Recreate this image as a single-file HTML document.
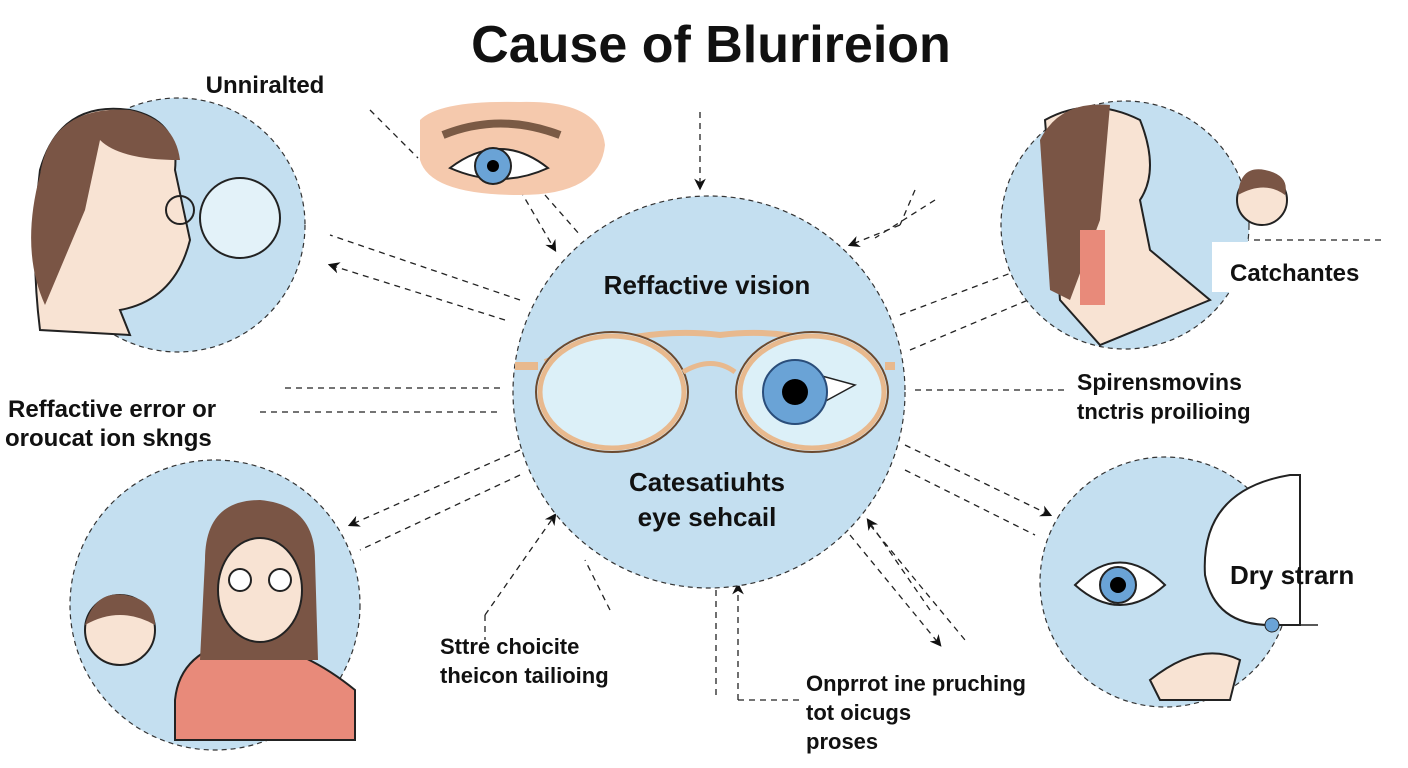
<!DOCTYPE html>
<html><head><meta charset="utf-8"><style>
body{margin:0;background:#fff;width:1408px;height:768px;overflow:hidden}
svg{display:block}
text{font-family:"Liberation Sans",sans-serif;fill:#111}
</style></head><body>
<svg width="1408" height="768" viewBox="0 0 1408 768">
<defs><marker id="a" viewBox="0 0 10 10" refX="8" refY="5" markerWidth="9" markerHeight="9" orient="auto"><path d="M0,0 L10,5 L0,10 L3,5z" fill="#111"/></marker></defs>
<text x="711" y="62" font-size="52" font-weight="bold" text-anchor="middle">Cause of Blurireion</text>
<g stroke="#222" stroke-width="1.3" stroke-dasharray="6,5" fill="none">
<line x1="370" y1="110" x2="418" y2="158"/>
<line x1="520" y1="190" x2="555" y2="250" marker-end="url(#a)"/>
<line x1="545" y1="195" x2="580" y2="235"/>
<line x1="700" y1="112" x2="700" y2="188" marker-end="url(#a)"/>
<line x1="915" y1="190" x2="900" y2="225" /><line x1="900" y1="225" x2="850" y2="245" marker-end="url(#a)"/>
<line x1="935" y1="200" x2="875" y2="238"/>
<line x1="505" y1="320" x2="330" y2="265" marker-end="url(#a)"/>
<line x1="520" y1="300" x2="330" y2="235"/>
<line x1="285" y1="388" x2="500" y2="388"/>
<line x1="260" y1="412" x2="500" y2="412"/>
<line x1="520" y1="450" x2="350" y2="525" marker-end="url(#a)"/>
<line x1="520" y1="475" x2="360" y2="550"/>
<line x1="485" y1="615" x2="555" y2="515" marker-end="url(#a)"/>
<line x1="485" y1="615" x2="485" y2="640"/>
<line x1="610" y1="610" x2="585" y2="560"/>
<line x1="738" y1="700" x2="738" y2="585" marker-end="url(#a)"/>
<line x1="716" y1="590" x2="716" y2="700"/>
<line x1="738" y1="700" x2="800" y2="700"/>
<line x1="850" y1="535" x2="940" y2="645" marker-end="url(#a)"/>
<line x1="870" y1="525" x2="965" y2="640"/>
<line x1="930" y1="610" x2="868" y2="520" marker-end="url(#a)"/>
<line x1="900" y1="315" x2="1040" y2="262"/>
<line x1="910" y1="350" x2="1040" y2="295" marker-end="url(#a)"/>
<line x1="915" y1="390" x2="1065" y2="390"/>
<line x1="905" y1="445" x2="1050" y2="515" marker-end="url(#a)"/>
<line x1="905" y1="470" x2="1035" y2="535"/>
<line x1="1210" y1="240" x2="1385" y2="240"/>
</g>
<circle cx="709" cy="392" r="196" fill="#c4dff0" stroke="#333" stroke-width="1.2" stroke-dasharray="5,4"/>
<text x="707" y="294" font-size="26" font-weight="bold" text-anchor="middle">Reffactive vision</text>
<g stroke="#222" stroke-width="5" fill="#dcf0f8">
<path d="M545,362 Q640,325 720,335 Q800,325 870,362" fill="none" stroke="#e8b98e" stroke-width="6"/>
<ellipse cx="612" cy="392" rx="76" ry="60" stroke="#6b4a30" stroke-width="2"/>
<ellipse cx="612" cy="392" rx="72" ry="56" fill="none" stroke="#e8b98e" stroke-width="5"/>
<ellipse cx="812" cy="392" rx="76" ry="60" stroke="#6b4a30" stroke-width="2"/>
<ellipse cx="812" cy="392" rx="72" ry="56" fill="none" stroke="#e8b98e" stroke-width="5"/>
<path d="M683,372 Q712,355 735,372" fill="none" stroke="#e8b98e" stroke-width="5"/>
<line x1="515" y1="366" x2="538" y2="366" stroke="#e8b98e" stroke-width="8"/>
<line x1="885" y1="366" x2="895" y2="366" stroke="#e8b98e" stroke-width="8"/>
</g>
<path d="M800,370 L855,385 L800,415z" fill="#fff" stroke="#222" stroke-width="1.5"/>
<circle cx="795" cy="392" r="32" fill="#6aa3d6" stroke="#2a4d7a" stroke-width="2"/>
<circle cx="795" cy="392" r="13" fill="#000"/>
<text x="707" y="491" font-size="26" font-weight="bold" text-anchor="middle">Catesatiuhts</text>
<text x="707" y="526" font-size="26" font-weight="bold" text-anchor="middle">eye sehcail</text>
<path d="M420,120 Q440,100 520,102 Q600,100 605,145 Q600,195 520,195 Q430,195 420,160z" fill="#f5c9ad"/>
<path d="M443,135 Q500,112 560,135" stroke="#7a5a45" stroke-width="8" fill="none"/>
<path d="M450,168 Q500,130 548,168 Q500,190 450,168z" fill="#fff" stroke="#222" stroke-width="2"/>
<circle cx="493" cy="166" r="18" fill="#6aa3d6" stroke="#222" stroke-width="2"/>
<circle cx="493" cy="166" r="6" fill="#000"/>
<circle cx="178" cy="225" r="127" fill="#c4dff0" stroke="#333" stroke-width="1.2" stroke-dasharray="5,4"/>
<path d="M40,170 Q60,100 130,110 Q180,120 175,170 L190,240 Q175,300 120,310 L130,335 L40,330 Q30,250 40,170z" fill="#f8e3d3" stroke="#222" stroke-width="2"/>
<path d="M40,175 Q50,105 130,110 Q175,120 180,160 Q120,160 100,140 L85,210 L45,305 Q20,250 40,175z" fill="#7a5545"/>
<circle cx="240" cy="218" r="40" fill="#e3f2f9" stroke="#222" stroke-width="2"/>
<circle cx="180" cy="210" r="14" fill="none" stroke="#222" stroke-width="2"/>
<text x="265" y="93" font-size="24" font-weight="bold" text-anchor="middle">Unniralted</text>
<text x="8" y="417" font-size="24" font-weight="bold">Reffactive error  or</text>
<text x="5" y="446" font-size="24" font-weight="bold">oroucat ion  skngs</text>
<circle cx="1125" cy="225" r="124" fill="#c4dff0" stroke="#333" stroke-width="1.2" stroke-dasharray="5,4"/>
<path d="M1045,120 Q1090,95 1140,120 Q1160,170 1140,200 L1150,250 L1210,300 L1100,345 L1060,300z" fill="#f8e3d3" stroke="#222" stroke-width="2"/>
<path d="M1040,140 Q1060,100 1110,105 L1100,220 L1070,300 L1050,290z" fill="#7a5545"/>
<rect x="1080" y="230" width="25" height="75" fill="#e88a7a"/>
<circle cx="1262" cy="200" r="25" fill="#f8e3d3" stroke="#222" stroke-width="2"/>
<path d="M1238,195 Q1240,165 1265,170 Q1290,175 1285,195 Q1265,180 1238,195z" fill="#7a5545"/>
<rect x="1212" y="242" width="175" height="50" fill="#fff"/>
<text x="1230" y="281" font-size="24" font-weight="bold">Catchantes</text>
<text x="1077" y="390" font-size="23" font-weight="bold">Spirensmovins</text>
<text x="1077" y="419" font-size="22" font-weight="bold">tnctris proilioing</text>
<circle cx="215" cy="605" r="145" fill="#c4dff0" stroke="#333" stroke-width="1.2" stroke-dasharray="5,4"/>
<path d="M175,700 Q180,650 240,640 Q300,645 355,690 L355,740 L175,740z" fill="#e88a7a" stroke="#222" stroke-width="2"/>
<path d="M205,560 Q205,500 260,500 Q315,505 315,560 L318,660 L200,660z" fill="#7a5545"/>
<ellipse cx="260" cy="590" rx="42" ry="52" fill="#f8e3d3" stroke="#222" stroke-width="2"/>
<circle cx="240" cy="580" r="11" fill="#fff" stroke="#222" stroke-width="2"/>
<circle cx="280" cy="580" r="11" fill="#fff" stroke="#222" stroke-width="2"/>
<circle cx="120" cy="630" r="35" fill="#f8e3d3" stroke="#222" stroke-width="2"/>
<path d="M85,625 Q95,590 125,595 Q155,600 155,625 Q120,605 85,625z" fill="#7a5545"/>
<text x="440" y="654" font-size="22" font-weight="bold">Sttre choicite</text>
<text x="440" y="683" font-size="22" font-weight="bold">theicon tailioing</text>
<text x="806" y="691" font-size="22" font-weight="bold">Onprrot ine pruching</text>
<text x="806" y="720" font-size="22" font-weight="bold">tot oicugs</text>
<text x="806" y="749" font-size="22" font-weight="bold">proses</text>
<circle cx="1165" cy="582" r="125" fill="#c4dff0" stroke="#333" stroke-width="1.2" stroke-dasharray="5,4"/>
<path d="M1290,475 Q1200,490 1205,575 Q1215,625 1270,625 L1300,625 L1300,475z" fill="#fff" stroke="#222" stroke-width="2"/>
<path d="M1075,585 Q1120,540 1165,585 Q1120,625 1075,585z" fill="#fff" stroke="#222" stroke-width="2"/>
<circle cx="1118" cy="585" r="18" fill="#6aa3d6" stroke="#222" stroke-width="2"/>
<circle cx="1118" cy="585" r="8" fill="#000"/>
<path d="M1150,680 Q1200,640 1240,660 L1230,700 L1160,700z" fill="#f8e3d3" stroke="#222" stroke-width="2"/>
<circle cx="1272" cy="625" r="7" fill="#6aa3d6" stroke="#222"/>
<line x1="1280" y1="625" x2="1318" y2="625" stroke="#222" stroke-width="1.5"/>
<text x="1230" y="584" font-size="26" font-weight="bold">Dry strarn</text>
</svg>
</body></html>
